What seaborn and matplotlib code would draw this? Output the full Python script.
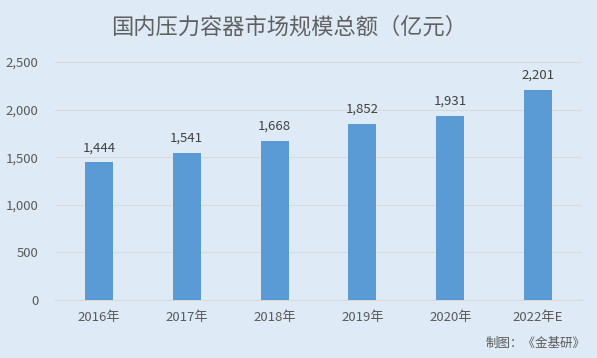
import matplotlib
matplotlib.use('Agg')
import matplotlib.pyplot as plt
import seaborn as sns
import pandas as pd

years = ['2016年', '2017年', '2018年', '2019年', '2020年', '2022年E']
market_size = [1444, 1541, 1668, 1852, 1931, 2201]

bg = '#DEEBF7'
bar_color = '#5B9BD5'
text_color = '#595959'

sns.set_style('white')
plt.rcParams['font.family'] = ['Noto Sans CJK SC', 'DejaVu Sans']

df = pd.DataFrame({'year': years, 'value': market_size})

fig = plt.figure(figsize=(5.97, 3.58), dpi=100, facecolor=bg)
ax = fig.add_axes([0.092, 0.162, 0.883, 0.665], facecolor=bg)

sns.barplot(data=df, x='year', y='value', color=bar_color, width=0.32,
            saturation=1, linewidth=0, ax=ax, zorder=3)

ax.set_ylim(0, 2500)
ax.set_yticks(range(0, 2501, 500))
ax.set_yticklabels([f'{v:,}' for v in range(0, 2501, 500)])
ax.yaxis.grid(True, color='#D9D9D9', linewidth=0.8, zorder=0)
ax.set_xlabel('')
ax.set_ylabel('')
for s in ['top', 'right', 'left']:
    ax.spines[s].set_visible(False)
ax.spines['bottom'].set_color('#D9D9D9')
ax.tick_params(axis='both', length=0, labelsize=9.5, colors=text_color, pad=8)
ax.tick_params(axis='y', pad=12)

labels = [f'{v:,}' for v in market_size]
ax.bar_label(ax.containers[0], labels=labels, padding=6, fontsize=9.5,
             color='#404040')

fig.text(0.485, 0.925, '国内压力容器市场规模总额（亿元）', ha='center', va='center',
         fontsize=16, color='#606060')
fig.text(0.98, 0.04, '制图：《金基研》', ha='right', va='center',
         fontsize=9, color=text_color)

fig.savefig('out.png', dpi=100, facecolor=bg)
